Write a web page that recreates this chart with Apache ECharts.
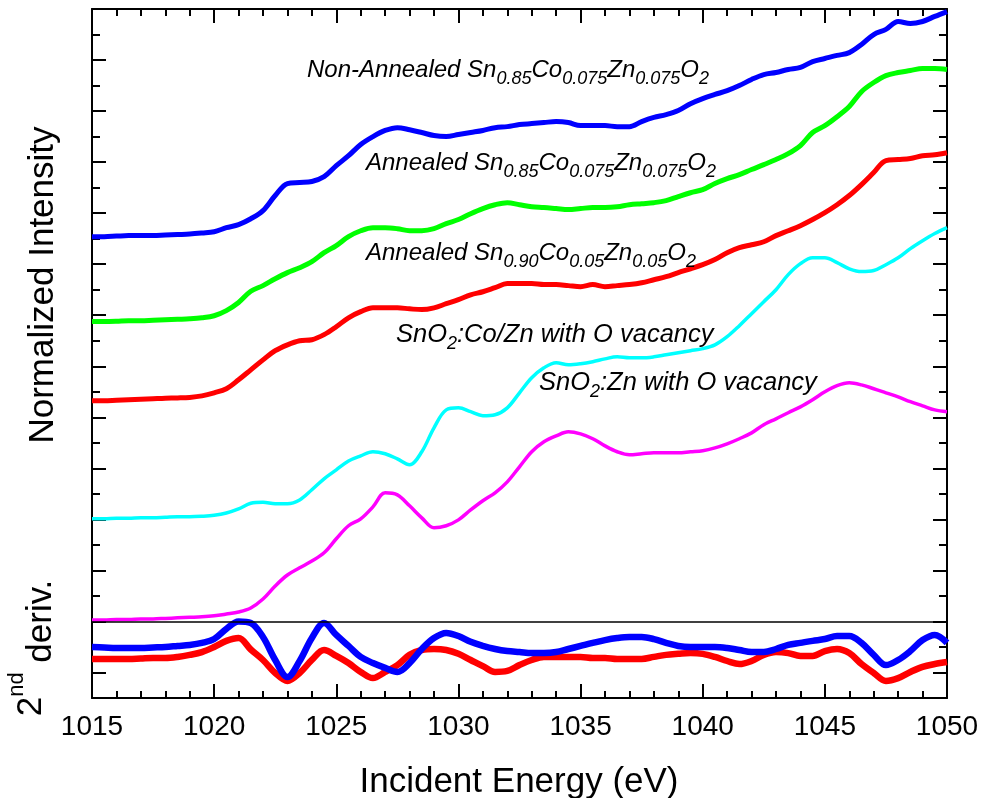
<!DOCTYPE html>
<html><head><meta charset="utf-8">
<script src="https://cdn.jsdelivr.net/npm/echarts@6/dist/echarts.min.js"></script>
<style>html,body{margin:0;padding:0;background:#fff}#c{width:982px;height:798px}</style>
</head><body><div id="c"></div>
<script>
// Incident energy grid (eV)
const energy = [1015,1015.5,1016,1016.5,1017,1017.5,1018,1018.5,1019,1019.5,
1020,1020.5,1021,1021.5,1022,1022.5,1023,1023.5,1024,1024.5,
1025,1025.5,1026,1026.5,1027,1027.5,1028,1028.5,1029,1029.5,
1030,1030.5,1031,1031.5,1032,1032.5,1033,1033.5,1034,1034.5,
1035,1035.5,1036,1036.5,1037,1037.5,1038,1038.5,1039,1039.5,
1040,1040.5,1041,1041.5,1042,1042.5,1043,1043.5,1044,1044.5,
1045,1045.5,1046,1046.5,1047,1047.5,1048,1048.5,1049,1049.5,1050];

// Normalized intensity (offset, arbitrary units)
const nonAnnealed085 = [18.08,18.08,18.10,18.12,18.12,18.12,18.14,18.16,18.18,18.22,
18.27,18.43,18.55,18.78,19.10,19.69,20.16,20.20,20.24,20.43,
20.86,21.25,21.69,22.00,22.24,22.35,22.27,22.16,22.04,22.00,
22.08,22.16,22.24,22.35,22.39,22.47,22.51,22.55,22.59,22.55,
22.43,22.43,22.43,22.39,22.39,22.59,22.75,22.86,23.02,23.29,
23.49,23.65,23.80,24.00,24.24,24.43,24.51,24.63,24.71,24.94,
25.06,25.18,25.29,25.61,26.00,26.20,26.51,26.43,26.51,26.71,26.90];

const annealed085 = [14.75,14.75,14.76,14.78,14.78,14.80,14.82,14.84,14.86,14.90,
14.98,15.18,15.50,15.94,16.16,16.43,16.67,16.86,17.10,17.45,
17.73,18.08,18.31,18.43,18.43,18.39,18.31,18.31,18.39,18.59,
18.75,18.98,19.18,19.33,19.41,19.33,19.25,19.22,19.18,19.14,
19.18,19.22,19.22,19.25,19.33,19.37,19.41,19.49,19.65,19.80,
19.92,20.16,20.35,20.51,20.71,20.90,21.10,21.33,21.65,22.16,
22.43,22.78,23.18,23.76,24.12,24.39,24.51,24.59,24.67,24.67,24.63];

const annealed090 = [11.65,11.65,11.67,11.69,11.71,11.73,11.75,11.76,11.78,11.84,
11.96,12.12,12.47,12.86,13.25,13.61,13.84,14.00,14.04,14.24,
14.55,14.90,15.14,15.29,15.29,15.29,15.25,15.22,15.29,15.45,
15.61,15.80,15.92,16.08,16.24,16.24,16.24,16.20,16.20,16.16,
16.12,16.20,16.12,16.16,16.20,16.27,16.39,16.51,16.67,16.82,
16.98,17.18,17.45,17.65,17.76,17.88,18.12,18.31,18.51,18.75,
19.02,19.33,19.69,20.12,20.59,21.06,21.10,21.14,21.25,21.29,21.37];

const calcCoZn = [7.02,7.02,7.04,7.04,7.06,7.06,7.08,7.10,7.10,7.12,
7.16,7.25,7.41,7.63,7.67,7.61,7.61,7.76,8.16,8.59,
8.94,9.29,9.49,9.65,9.57,9.37,9.14,9.65,10.59,11.29,
11.37,11.22,11.06,11.10,11.37,11.96,12.55,12.94,13.14,13.06,
13.10,13.18,13.29,13.37,13.33,13.33,13.37,13.45,13.53,13.61,
13.69,13.84,14.16,14.59,15.06,15.53,16.00,16.59,17.02,17.25,
17.25,17.06,16.82,16.71,16.75,16.98,17.25,17.61,17.92,18.20,18.43];

const calcZn = [3.06,3.06,3.08,3.08,3.10,3.10,3.12,3.14,3.16,3.18,
3.22,3.29,3.37,3.53,3.88,4.39,4.82,5.10,5.37,5.69,
6.24,6.75,7.02,7.49,8.04,7.96,7.53,7.06,6.67,6.75,
6.98,7.37,7.73,8.04,8.47,9.06,9.65,10.04,10.27,10.43,
10.35,10.16,9.88,9.65,9.53,9.57,9.61,9.61,9.61,9.65,
9.69,9.80,9.96,10.16,10.39,10.71,10.94,11.18,11.41,11.69,
12.00,12.24,12.35,12.27,12.12,11.96,11.80,11.61,11.45,11.29,11.22];

// 2nd derivative panel
const derivNonAnnealed = [2.00,1.98,1.96,1.96,1.96,1.98,2.00,2.04,2.08,2.16,
2.31,2.71,3.00,2.94,2.39,1.49,0.82,1.45,2.35,2.94,
2.47,2.04,1.61,1.37,1.18,1.02,1.37,1.92,2.35,2.55,
2.43,2.20,2.04,1.92,1.84,1.80,1.76,1.76,1.80,1.92,
2.04,2.16,2.27,2.35,2.39,2.39,2.31,2.16,2.04,2.00,
2.00,2.00,1.96,1.88,1.80,1.80,1.92,2.08,2.16,2.24,
2.31,2.43,2.43,2.16,1.69,1.29,1.49,1.84,2.27,2.47,2.16];

const derivAnnealed = [1.53,1.53,1.53,1.53,1.55,1.57,1.57,1.61,1.69,1.80,
2.00,2.24,2.35,1.90,1.49,0.98,0.67,0.98,1.49,1.88,
1.65,1.37,1.02,0.78,1.02,1.29,1.69,1.88,1.92,1.88,
1.73,1.49,1.25,1.02,1.06,1.29,1.49,1.61,1.61,1.61,
1.61,1.57,1.57,1.53,1.53,1.53,1.61,1.69,1.73,1.76,
1.73,1.61,1.45,1.33,1.45,1.69,1.80,1.76,1.65,1.65,
1.84,1.92,1.76,1.33,0.98,0.67,0.78,1.02,1.22,1.33,1.41];

const panelSeparator = 3;
const xMin = 1015, xMax = 1050, xStep = 5;
const yMin = 0, yMax = 27;
const yMajorTicks = [1,3,5,7,9,11,13,15,17,19,21,23,25,27];
const yMinorTicks = [2,4,6,8,10,12,14,16,18,20,22,24,26];

const FONT = '"Liberation Sans", Arial, Helvetica, sans-serif';
const pair = arr => energy.map((e, i) => [e, arr[i]]);

function lineSeries(name, arr, color, width) {
  return {
    name: name, type: 'line', data: pair(arr), showSymbol: false, symbol: 'none',
    smooth: 0.35, lineStyle: {color: color, width: width}, itemStyle: {color: color},
    xAxisIndex: 0, yAxisIndex: 0, animation: false, silent: true
  };
}

function yAx(position, ticks, len, line) {
  return {
    type: 'value', position: position, min: yMin, max: yMax,
    axisLine: {show: line, onZero: false, lineStyle: {color: '#000', width: 2}},
    axisTick: {show: true, inside: true, length: len, customValues: ticks, lineStyle: {color: '#000', width: 2}},
    axisLabel: {show: false}, splitLine: {show: false}
  };
}
function xAx(position, labels) {
  return {
    type: 'value', position: position, min: xMin, max: xMax, interval: xStep,
    axisLine: {show: true, onZero: false, lineStyle: {color: '#000', width: 2}},
    axisTick: {show: true, inside: true, length: 14, lineStyle: {color: '#000', width: 2}},
    minorTick: {show: true, splitNumber: 5, length: 7, lineStyle: {color: '#000', width: 2}},
    axisLabel: {show: labels, color: '#000', fontSize: 28, fontFamily: FONT, margin: 15,
      formatter: v => String(v)},
    splitLine: {show: false}, minorSplitLine: {show: false}
  };
}

function richSet(M, S) {
  const P = 18 * S / 18;
  return {
    m: {fontFamily: FONT, fontStyle: 'italic', fontSize: M, lineHeight: M + 1, fill: '#000'},
    s: {fontFamily: FONT, fontStyle: 'italic', fontSize: S, lineHeight: S, fill: '#000', padding: [P, 0, 0, 0]}
  };
}
function anno(x, y, text, M, S) {
  return {type: 'text', x: x, y: y, silent: true, z: 100,
    style: {text: text, align: 'left', verticalAlign: 'middle', rich: richSet(M, S)}};
}

const option = {
  backgroundColor: '#fff',
  animation: false,
  grid: {left: 92, right: 35, top: 9, bottom: 100, containLabel: false},
  xAxis: [xAx('bottom', true), xAx('top', false)],
  yAxis: [yAx('left', yMajorTicks, 14, true), yAx('left', yMinorTicks, 8, false),
          yAx('right', yMajorTicks, 14, true), yAx('right', yMinorTicks, 8, false)],
  series: [
    Object.assign(lineSeries('SnO2:Zn with O vacancy', calcZn, '#ff00ff', 3.5), {
      markLine: {silent: true, symbol: ['none', 'none'], label: {show: false},
        lineStyle: {color: '#000', width: 1.5, type: 'solid'}, data: [{yAxis: panelSeparator}]}
    }),
    lineSeries('SnO2:Co/Zn with O vacancy', calcCoZn, '#00ffff', 3.5),
    lineSeries('Annealed Sn0.90Co0.05Zn0.05O2', annealed090, '#ff0000', 5),
    lineSeries('Annealed Sn0.85Co0.075Zn0.075O2', annealed085, '#00ff00', 5),
    lineSeries('Non-Annealed Sn0.85Co0.075Zn0.075O2', nonAnnealed085, '#0000ff', 5),
    lineSeries('2nd deriv annealed', derivAnnealed, '#ff0000', 6.5),
    lineSeries('2nd deriv non-annealed', derivNonAnnealed, '#0000ff', 6.5)
  ],
  graphic: [
    anno(307, 70, '{m|Non-Annealed Sn}{s|0.85}{m|Co}{s|0.075}{m|Zn}{s|0.075}{m|O}{s|2}', 24, 18),
    anno(366, 163, '{m|Annealed Sn}{s|0.85}{m|Co}{s|0.075}{m|Zn}{s|0.075}{m|O}{s|2}', 24, 18),
    anno(366, 253, '{m|Annealed Sn}{s|0.90}{m|Co}{s|0.05}{m|Zn}{s|0.05}{m|O}{s|2}', 24, 18),
    anno(396, 335, '{m|SnO}{s|2}{m|:Co/Zn with O vacancy}', 25.5, 18),
    anno(539, 383, '{m|SnO}{s|2}{m|:Zn with O vacancy}', 25.5, 18),
    {type: 'text', x: 43, y: 285, rotation: Math.PI / 2, silent: true,
      style: {text: 'Normalized Intensity', align: 'center', verticalAlign: 'middle',
        fontFamily: FONT, fontSize: 35, fill: '#000'}},
    {type: 'text', x: 41, y: 648, rotation: Math.PI / 2, silent: true,
      style: {text: '{two|2}{nd|nd}{a| deriv.}', align: 'center', verticalAlign: 'middle',
        rich: {
          a: {fontFamily: FONT, fontSize: 35, lineHeight: 36, fill: '#000'},
          two: {fontFamily: FONT, fontSize: 35, lineHeight: 36, fill: '#000', padding: [0, 0, 20, 0]},
          nd: {fontFamily: FONT, fontSize: 22, lineHeight: 22, fill: '#000', padding: [0, 0, 48, 0]}
        }}},
    {type: 'text', x: 519, y: 782, silent: true,
      style: {text: 'Incident Energy (eV)', align: 'center', verticalAlign: 'middle',
        fontFamily: FONT, fontSize: 35, fill: '#000'}}
  ]
};
const chart = echarts.init(document.getElementById('c'));
chart.setOption(option);
</script></body></html>
